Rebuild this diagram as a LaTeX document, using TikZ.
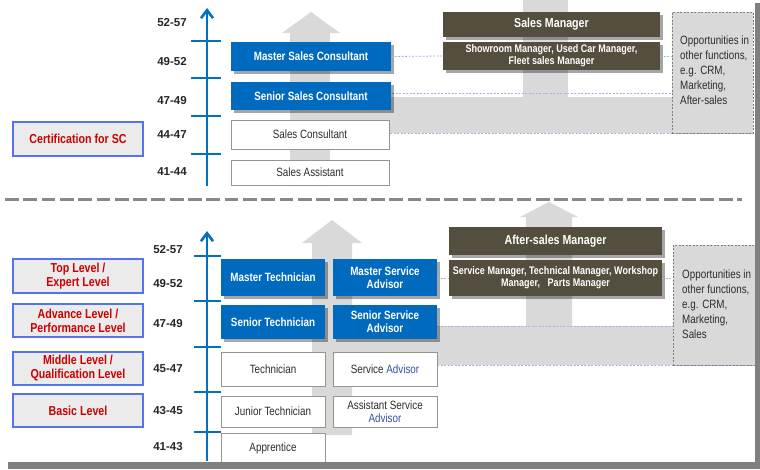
\documentclass[tikz,border=0pt]{standalone}
\usepackage{fontspec}
\setmainfont{Liberation Sans}[FakeStretch=0.82]
\newfontfamily\widefont{Liberation Sans}
\usetikzlibrary{arrows.meta,shadows}
\definecolor{boxblue}{RGB}{0,106,190}
\definecolor{axisblue}{RGB}{0,112,192}
\definecolor{darkbox}{RGB}{84,78,62}
\definecolor{band}{RGB}{217,217,217}
\definecolor{lvlfill}{RGB}{235,235,235}
\definecolor{lvlblue}{RGB}{85,115,240}
\definecolor{lvlred}{RGB}{204,0,0}
\definecolor{lightdash}{RGB}{165,180,225}
\definecolor{boxedge}{RGB}{150,150,140}
\definecolor{txtgray}{RGB}{45,45,45}
\definecolor{advblue}{RGB}{50,80,160}
\definecolor{sepgray}{RGB}{136,136,136}
\definecolor{framegray}{RGB}{128,128,128}
\begin{document}
\begin{tikzpicture}[x=1pt,y=-1pt,
  shadowed/.style={drop shadow={shadow xshift=2.5pt,shadow yshift=-2.5pt,fill=black,opacity=0.35}},
  bluebox/.style={shadowed,fill=boxblue,text=white,inner sep=0pt,align=center,
    font=\bfseries\fontsize{12}{13}\selectfont},
  whitebox/.style={draw=boxedge,line width=1pt,fill=white,text=txtgray,inner sep=0pt,align=center,
    font=\fontsize{12}{13}\selectfont},
  darkhead/.style={shadowed,fill=darkbox,text=white,inner sep=0pt,align=center,
    font=\bfseries\fontsize{13}{14}\selectfont},
  darksub/.style={shadowed,fill=darkbox,text=white,inner sep=0pt,align=center,
    font=\bfseries\fontsize{11}{12}\selectfont},
  lvlbox/.style={draw=lvlblue,line width=1.3pt,fill=lvlfill,text=lvlred,inner sep=0pt,align=center,
    minimum width=130pt,font=\bfseries\fontsize{13}{14}\selectfont},
  oppbox/.style={draw=gray,dash pattern=on 2pt off 1.5pt,line width=0.8pt,fill=band,inner sep=0pt},
  opptext/.style={anchor=north west,inner sep=0pt,align=left,text=txtgray,
    font=\fontsize{12}{15}\selectfont},
  lvl/.style={font=\widefont\bfseries\fontsize{11.5}{13}\selectfont,text=black!85},
  axis/.style={draw=axisblue,line width=2.6pt,-{Straight Barb[length=8pt,width=12pt]}},
  tick/.style={draw=axisblue,line width=2.6pt},
  ldash/.style={draw=lightdash,line width=0.8pt,dash pattern=on 2pt off 1.5pt},
  grayarrow/.style={fill=band,draw=none}
]
\useasboundingbox (0,0) rectangle (760,469);
\fill[white] (0,0) rectangle (760,469);

% ---------- upper section: grey background arrows ----------
\fill[grayarrow] (330,97) rectangle (672,133);
\fill[grayarrow] (523,0) rectangle (568,97);
\fill[grayarrow] (290,186) -- (290,33) -- (282,33) -- (311,12) -- (340,33) -- (330,33) -- (330,186) -- cycle;

% dashed guide lines
\coordinate (g1a) at (392,93);
\coordinate (g1b) at (672,93);
\coordinate (g2a) at (390,133);
\coordinate (g2b) at (753,133);
\draw[ldash] (g1a) -- (g1b);
\draw[ldash] (g2a) -- (g2b);

% axis
\coordinate (ax1b) at (207,186);
\coordinate (ax1t) at (207,8);
\draw[axis] (ax1b) -- (ax1t);
\foreach \yy in {41,78,116,154} \draw[tick] (191,\yy) -- (221,\yy);

% level labels
\node[lvl] (u1) at (172,23) {52-57};
\node[lvl] (u2) at (172,62) {49-52};
\node[lvl] (u3) at (172,101) {47-49};
\node[lvl] (u4) at (172,135) {44-47};
\node[lvl] (u5) at (172,172) {41-44};

% boxes
\node[bluebox,minimum width=160pt,minimum height=29pt] (msc) at (311,56.5) {Master Sales Consultant};
\node[bluebox,minimum width=160pt,minimum height=28pt] (ssc) at (311,96) {Senior Sales Consultant};
\node[whitebox,minimum width=158pt,minimum height=29pt] (sc) at (310,134.5) {Sales Consultant};
\node[whitebox,minimum width=158pt,minimum height=25pt] (sa) at (310,172.5) {Sales Assistant};
\node[lvlbox,minimum height=34pt] (cert) at (78,139) {Certification for SC};

\node[darkhead,minimum width=217pt,minimum height=25pt] (sm) at (551.5,24.5) {Sales Manager};
\node[darksub,minimum width=217pt,minimum height=28pt] (smsub) at (551.5,56) {Showroom Manager, Used Car Manager,\\Fleet sales Manager};
\node[oppbox,minimum width=81pt,minimum height=121pt] (opp1) at (712.5,72.5) {};
\node[opptext] (opp1t) at (680,36) {Opportunities in\\other functions,\\e.g. CRM,\\Marketing,\\After-sales};

\draw[ldash] (msc.east) -- (smsub.west);
\draw[ldash] (smsub.east) -- (opp1.west |- smsub.east);

% separator
\coordinate (sepl) at (5,199.5);
\coordinate (sepr) at (742,199.5);
\draw[sepgray,line width=3pt,dash pattern=on 13.8pt off 4.5pt] (sepl) -- (sepr);

% ---------- lower section ----------
\fill[grayarrow] (352,326) rectangle (673,365);
\fill[grayarrow] (526,326) -- (526,217) -- (520,217) -- (549,202) -- (578,217) -- (572,217) -- (572,326) -- cycle;
\fill[grayarrow] (312,435) -- (312,243) -- (302,243) -- (332,220) -- (362,243) -- (352,243) -- (352,435) -- cycle;

\coordinate (g3a) at (437,326);
\coordinate (g3b) at (673,326);
\coordinate (g4a) at (437,365);
\coordinate (g4b) at (755,365);
\draw[ldash] (g3a) -- (g3b);
\draw[ldash] (g4a) -- (g4b);

\coordinate (ax2b) at (207,461);
\coordinate (ax2t) at (207,231);
\draw[axis] (ax2b) -- (ax2t);
\foreach \yy in {256,301,347,392,432} \draw[tick] (194,\yy) -- (221,\yy);

\node[lvl] (l1) at (168,250) {52-57};
\node[lvl] (l2) at (168,284) {49-52};
\node[lvl] (l3) at (168,324) {47-49};
\node[lvl] (l4) at (168,369) {45-47};
\node[lvl] (l5) at (168,411) {43-45};
\node[lvl] (l6) at (168,447) {41-43};

\node[lvlbox,minimum height=34pt] (top) at (78,276) {Top Level /\\Expert Level};
\node[lvlbox,minimum height=33pt] (adv) at (78,320.5) {Advance Level /\\Performance Level};
\node[lvlbox,minimum height=33pt] (mid) at (78,368.5) {Middle Level /\\Qualification Level};
\node[lvlbox,minimum height=33pt] (bas) at (78,410.5) {Basic Level};

\node[bluebox,minimum width=104pt,minimum height=37pt] (mt) at (273,277.5) {Master Technician};
\node[bluebox,minimum width=104pt,minimum height=34pt] (st) at (273,322) {Senior Technician};
\node[whitebox,minimum width=104pt,minimum height=34pt] (te) at (273,369) {Technician};
\node[whitebox,minimum width=104pt,minimum height=31pt] (jt) at (273,411.5) {Junior Technician};
\node[whitebox,minimum width=104pt,minimum height=30pt] (ap) at (273,448) {Apprentice};

\node[bluebox,minimum width=104pt,minimum height=37pt] (msa) at (385,277.5) {Master Service\\Advisor};
\node[bluebox,minimum width=104pt,minimum height=34pt] (ssa) at (385,322) {Senior Service\\Advisor};
\node[whitebox,minimum width=104pt,minimum height=34pt] (sva) at (385,369) {Service \textcolor{advblue}{Advisor}};
\node[whitebox,minimum width=104pt,minimum height=31pt] (asa) at (385,411.5) {Assistant Service\\\textcolor{advblue}{Advisor}};

\node[darkhead,minimum width=213pt,minimum height=28pt] (asm) at (555.5,241) {After-sales Manager};
\node[darksub,minimum width=213pt,minimum height=36pt] (asmsub) at (555.5,278) {Service Manager, Technical Manager, Workshop\\Manager,\ \ \ Parts Manager};
\node[oppbox,minimum width=82pt,minimum height=120pt] (opp2) at (714,305) {};
\node[opptext] (opp2t) at (682,270) {Opportunities in\\other functions,\\e.g. CRM,\\Marketing,\\Sales};

\draw[ldash] (msa.east |- asmsub.west) -- (asmsub.west);
\draw[ldash] (asmsub.east) -- (opp2.west |- asmsub.east);

% frame shadow
\fill[framegray] (755,3) rectangle (760,469);
\fill[framegray] (8,462) rectangle (760,469);
\end{tikzpicture}
\end{document}
